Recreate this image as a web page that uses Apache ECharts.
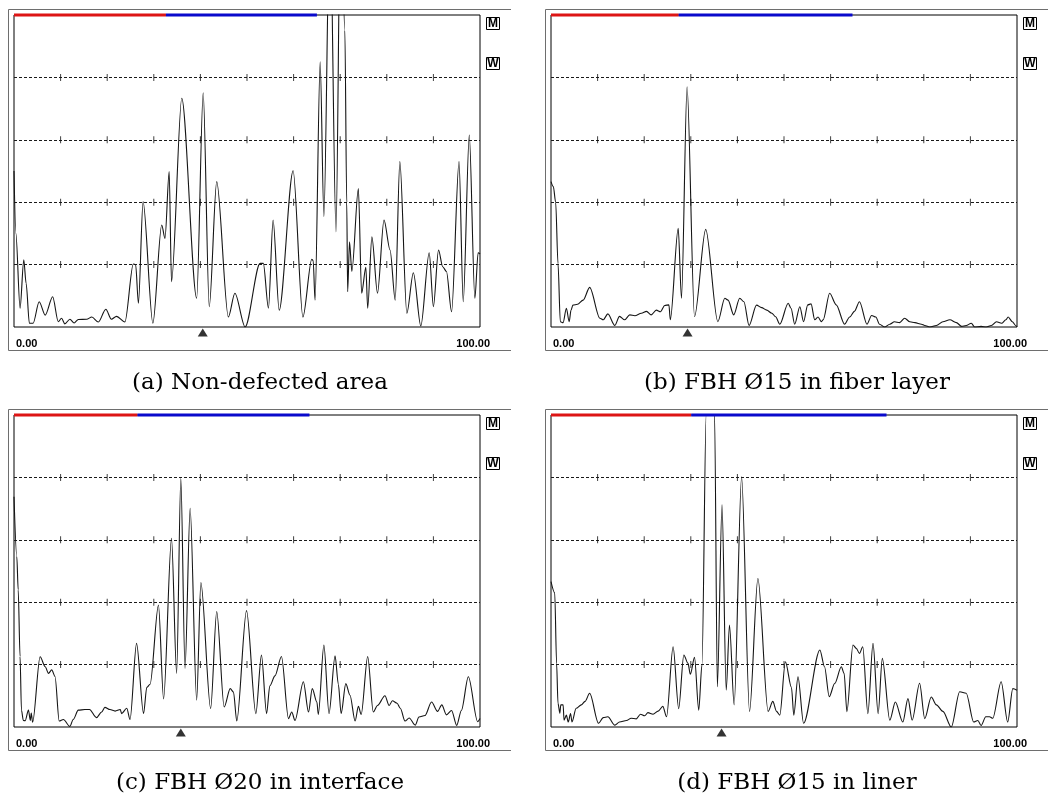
<!DOCTYPE html>
<html>
<head>
<meta charset="utf-8">
<script src="https://cdn.jsdelivr.net/npm/echarts@6/dist/echarts.min.js"></script>
<style>
html, body { margin: 0; padding: 0; background: #fff; }
#chart { width: 1048px; height: 804px; }
</style>
</head>
<body>
<div id="chart"></div>
<script>
// A-scan amplitude traces: [time-base %, amplitude %]
const scanA = [
  [0,50],[0.4,30],[1.3,6],[2.1,21.5],[2.6,14],[3.3,1.2],[4.1,1.2],[5.4,8.1],[6.7,3.8],[8.3,9.7],[9.5,1.7],
  [10.2,2.8],[10.9,1],[12.0,2.5],[12.9,1.3],[13.8,2.4],[15.6,2.5],[16.7,3.2],[18.1,1.6],[19.7,5.7],[20.9,2.5],
  [22.0,3.4],[23.8,1.6],[25.6,20.2],[26.1,20],[26.7,7.6],[27.7,40.2],[29.8,1.2],[31.7,32.7],[32.4,28.4],
  [33.3,49.8],[33.8,14.5],[36.0,73.3],[39.2,9.2],[40.6,75.1],[41.9,6.5],[43.5,46.6],[46.0,3.2],[47.4,10.8],
  [49.6,0],[52.8,20.4],[53.5,20.4],[54.6,6.0],[55.6,34.3],[56.9,5.4],[59.9,50.1],[62.0,3.2],[63.9,21.7],
  [64.2,21.3],[64.6,8.6],[65.7,85.0],[66.5,35.4],[67.8,135],[69.1,30.5],[70.1,140],[71.0,95],[71.4,40],
  [71.6,11.3],[72.0,27.3],[72.5,17.8],[73.9,44.4],[74.6,10.8],[75.5,19.1],[75.9,6.0],[76.8,28.9],[78.0,10.8],
  [79.4,34.3],[80.7,24.7],[81.8,8.6],[82.8,53.0],[84.3,4.4],[85.7,17.4],[87.3,0.3],[89.1,23.8],[90.0,6.5],
  [91.1,24.7],[92.0,19.3],[92.8,17.8],[93.9,4.9],[95.5,53.0],[96.4,8.1],[97.7,61.5],[98.9,9.2],[99.6,23.8],
  [100,23.4]
];
const scanB = [
  [0,46.6],[0.5,45],[1.0,40],[1.5,20.4],[2.0,1.7],[2.6,1.4],[3.3,6.0],[3.9,1.7],[4.3,5.4],[4.7,7.0],[5.7,7.3],
  [6.9,8.6],[8.3,12.7],[10.5,2.8],[11.2,2.3],[12.2,4.2],[13.7,0.5],[14.7,3.4],[15.8,2.3],[16.9,3.9],[18.0,3.6],
  [19.4,4.4],[20.5,5.0],[21.5,3.9],[22.6,5.4],[23.5,4.9],[24.4,6.9],[25.3,7.1],[25.6,2.3],[27.3,31.6],[28.0,9.2],
  [29.2,77.0],[30.8,3.3],[33.2,31.3],[35.8,1.7],[37.3,9.2],[38.0,8.6],[39.2,3.9],[40.5,9.2],[41.4,8.1],[42.5,0.5],
  [44.1,7.0],[45.2,6.2],[46.3,5.4],[47.4,4.4],[48.2,3.3],[49.1,0.9],[50.9,7.6],[51.5,6.0],[52.3,0.9],[53.4,6.5],
  [54.2,1.7],[55.1,7.1],[55.8,7.4],[56.6,2.3],[57.3,3.2],[58.0,1.7],[58.4,2.3],[59.8,10.8],[61.2,7.1],[63.0,0.9],
  [64.1,3.2],[65.1,5.0],[66.2,8.1],[67.8,0.9],[68.8,3.7],[69.7,3.2],[70.5,0.9],[71.6,0],[72.7,0.9],[73.7,1.7],
  [74.8,1.4],[75.9,2.8],[77.0,1.7],[78.1,1.4],[79.5,0.9],[80.2,0.5],[81.3,0],[82.7,0.5],[84.1,1.7],[85.6,2.3],
  [87.0,1.4],[88.1,0.2],[89.1,0.5],[90.2,1.2],[90.9,0],[92.3,0.2],[93.4,0],[94.5,0.5],[95.6,1.7],[96.7,1.2],
  [97.6,2.3],[98.1,3.2],[99.0,1.7],[99.7,0.5],[100,0]
];
const scanC = [
  [0,73.8],[0.6,54.6],[0.9,44.0],[1.3,22.6],[1.6,5.4],[2.0,2.1],[2.4,2.0],[3.1,5.4],[3.5,2.1],[3.7,4.5],[4.0,1.5],
  [5.6,22.5],[6.7,19.3],[7.4,17.2],[8.1,18.3],[8.8,16.2],[9.7,1.9],[10.6,2.4],[12.0,0.2],[12.7,2.4],[13.8,5.4],
  [15.2,5.6],[16.2,5.6],[17.7,3.0],[18.8,4.8],[19.5,6.3],[20.6,5.6],[21.7,5.1],[22.8,5.6],[23.1,4.3],[24.2,6.0],
  [24.9,2.4],[26.3,26.8],[27.8,4.3],[28.5,12.7],[29.2,13.7],[31.0,39.1],[32.1,9.0],[33.8,60.5],[34.9,17.2],
  [35.8,79.7],[36.7,18.8],[37.8,70.1],[39.2,8.6],[40.1,46.3],[42.2,5.9],[43.5,37.0],[45.1,6.4],[46.4,12.3],
  [47.1,11.2],[47.8,1.9],[49.9,37.3],[51.9,4.3],[53.1,23.1],[54.2,4.3],[54.9,13.2],[56.0,16.4],[57.4,22.6],
  [58.9,2.7],[59.6,4.8],[60.3,2.1],[62.1,14.5],[63.2,4.8],[64.0,12.3],[65.0,8.0],[65.3,4.0],[66.5,26.3],
  [67.6,4.3],[68.9,22.8],[69.6,13.7],[70.2,4.3],[71.2,13.9],[72.1,10.2],[73.2,1.9],[73.9,6.6],[74.5,4.0],
  [75.9,22.6],[77.1,4.8],[78.0,6.9],[79.6,10.0],[80.5,6.9],[81.2,8.4],[82.2,7.6],[82.9,6.0],[83.9,1.9],
  [84.8,2.9],[86.1,0.6],[86.9,3.2],[88.2,3.7],[89.6,8.0],[90.9,5.0],[91.8,7.1],[92.8,3.9],[93.9,5.3],
  [95.0,0.5],[96.0,5.3],[97.5,16.1],[99.5,1.7],[100,2.7]
];
const scanD = [
  [0,46.6],[0.8,43],[1.2,20.4],[1.5,7.6],[1.9,4.4],[2.1,7.1],[2.6,7.1],[2.8,2.2],[3.3,3.8],[3.7,1.6],[4.2,4.3],
  [4.5,1.6],[5.4,6.0],[6.5,7.1],[7.3,8.2],[8.3,10.8],[10.2,1.2],[11.2,3.0],[12.2,3.3],[13.7,0.6],[14.7,1.6],
  [16.2,2.1],[17.2,2.8],[18.3,2.6],[19.2,4.1],[20.1,3.6],[20.8,4.6],[21.9,4.1],[23.0,5.1],[24.0,6.6],[24.8,3.3],
  [26.2,25.7],[27.4,5.9],[28.5,23.1],[29.4,20.4],[29.9,16.9],[30.8,22.3],[31.7,5.4],[32.4,20],[33.3,100],
  [34.2,118],[35.1,100],[35.7,12.9],[36.7,71.2],[37.6,11.8],[38.3,32.7],[39.3,7.1],[40.9,80.2],[42.6,5.0],
  [44.4,47.6],[46.6,5.0],[47.6,8.2],[48.4,5.0],[49.1,3.8],[50.3,20.9],[51.6,12.7],[52.1,3.8],[53.0,16.1],
  [54.2,1.2],[57.7,24.7],[58.7,19.3],[59.7,9.7],[60.9,14.0],[62.3,19.3],[62.9,17.2],[63.5,4.9],[64.8,26.3],
  [65.5,25.2],[66.2,23.6],[66.9,25.7],[68.0,4.3],[69.1,26.8],[70.2,4.3],[71.1,22.0],[72.7,2.2],[73.9,8.0],
  [75.5,1.6],[76.6,9.1],[77.5,2.2],[79.1,14.0],[80.2,2.7],[81.6,9.6],[82.7,7.1],[84.1,5.0],[85.9,0],
  [87.7,11.3],[89.1,10.8],[90.7,1.6],[91.6,2.1],[92.3,0.5],[93.3,3.3],[94.1,3.3],[94.8,2.8],[96.6,14.5],
  [98.0,1.6],[99.1,12.3],[100,11.8]
];

const captions = [
  '(a) Non-defected area',
  '(b) FBH Ø15 in fiber layer',
  '(c) FBH Ø20 in interface',
  '(d) FBH Ø15 in liner'
];
// Gate bars along the top edge (end of the red and blue segments, % of range)
const gateRedEnd = [32.6, 27.4, 26.5, 30.1];
const gateBlueEnd = [65.0, 64.7, 63.4, 72.0];
// Position of the triangle marker under the time base (%)
const markerPos = [40.5, 29.3, 35.8, 36.6];
const gridLevels = [20, 40, 60, 80];
const tickPositions = [10, 20, 30, 40, 50, 60, 70, 80, 90];
const rangeLabels = ['0.00', '100.00'];
const flagLabels = ['M', 'W'];

const scans = [scanA, scanB, scanC, scanD];

// Screen layout of the four A-scan windows
const PW = 466, PH = 312;
const panels = [
  { left: 14, top: 15, frameRight: 511 },
  { left: 551, top: 15, frameRight: 1048 },
  { left: 14, top: 415, frameRight: 511 },
  { left: 551, top: 415, frameRight: 1048 }
];

const grids = [], xAxes = [], yAxes = [], series = [], graphics = [];

panels.forEach((p, i) => {
  grids.push({
    left: p.left, top: p.top, width: PW, height: PH,
    show: true, backgroundColor: '#fff', borderColor: '#000', borderWidth: 1
  });
  xAxes.push({
    gridIndex: i, type: 'value', min: 0, max: 100, interval: 10,
    axisLine: { show: false }, axisTick: { show: false }, axisLabel: { show: false },
    splitLine: { show: false }
  });
  yAxes.push({
    gridIndex: i, type: 'value', min: 0, max: 100, interval: 20,
    axisLine: { show: false }, axisTick: { show: false }, axisLabel: { show: false },
    splitLine: {
      show: true, showMinLine: false, showMaxLine: false,
      lineStyle: { color: '#1a1a1a', width: 1, type: [3, 2] }
    }
  });

  // short tick marks on every dashed level
  const ticks = [];
  gridLevels.forEach(lv => tickPositions.forEach(t => ticks.push([t, lv])));
  series.push({
    type: 'scatter', xAxisIndex: i, yAxisIndex: i, data: ticks,
    symbol: 'rect', symbolSize: [1, 7], itemStyle: { color: '#111' },
    silent: true, z: 2, animation: false
  });

  // the echo trace
  series.push({
    type: 'line', xAxisIndex: i, yAxisIndex: i, data: scans[i],
    symbol: 'none', smooth: 0.3, smoothMonotone: 'x', clip: true,
    lineStyle: { color: '#151515', width: 1.1 },
    silent: true, z: 3, animation: false
  });

  // red / blue gate bars
  series.push({
    type: 'line', xAxisIndex: i, yAxisIndex: i,
    data: [[0, 100], [gateRedEnd[i], 100]],
    symbol: 'none', clip: false, lineStyle: { color: '#dd1515', width: 3 },
    silent: true, z: 5, animation: false
  });
  series.push({
    type: 'line', xAxisIndex: i, yAxisIndex: i,
    data: [[gateRedEnd[i], 100], [gateBlueEnd[i], 100]],
    symbol: 'none', clip: false, lineStyle: { color: '#0a0acc', width: 3 },
    silent: true, z: 5, animation: false
  });

  // triangle marker below the time base
  series.push({
    type: 'scatter', xAxisIndex: i, yAxisIndex: i,
    data: [[markerPos[i], -1.8]],
    symbol: 'triangle', symbolSize: [10, 8], clip: false,
    itemStyle: { color: '#000' }, silent: true, z: 5, animation: false
  });

  // outer instrument frame (left, top, bottom)
  const fx = p.left - 6, fy = p.top - 6, fb = p.top + PH + 23;
  const frameStyle = { stroke: '#6e6e6e', lineWidth: 1 };
  graphics.push(
    { type: 'line', shape: { x1: fx + 0.5, y1: fy + 0.5, x2: p.frameRight, y2: fy + 0.5 }, style: frameStyle, silent: true },
    { type: 'line', shape: { x1: fx + 0.5, y1: fy + 0.5, x2: fx + 0.5, y2: fb + 0.5 }, style: frameStyle, silent: true },
    { type: 'line', shape: { x1: fx + 0.5, y1: fb + 0.5, x2: p.frameRight, y2: fb + 0.5 }, style: frameStyle, silent: true }
  );

  // M / W flags at the right of the screen
  flagLabels.forEach((f, k) => {
    const bx = p.left + PW + 6, by = p.top + 2 + k * 40;
    graphics.push({
      type: 'rect', shape: { x: bx + 0.5, y: by + 0.5, width: 13, height: 12 },
      style: { fill: '#fff', stroke: '#000', lineWidth: 1 }, silent: true
    });
    graphics.push({
      type: 'text', x: bx + 7, y: by + 7,
      style: {
        text: f, fill: '#000', font: 'bold 12px "Liberation Sans", Arial, sans-serif',
        align: 'center', verticalAlign: 'middle'
      }, silent: true
    });
  });

  // range end labels
  graphics.push({
    type: 'text', x: p.left + 2, y: p.top + PH + 17,
    style: { text: rangeLabels[0], fill: '#000', font: 'bold 11px "Liberation Sans", Arial, sans-serif',
      align: 'left', verticalAlign: 'middle' }, silent: true
  });
  graphics.push({
    type: 'text', x: p.left + PW + 10, y: p.top + PH + 17,
    style: { text: rangeLabels[1], fill: '#000', font: 'bold 11px "Liberation Sans", Arial, sans-serif',
      align: 'right', verticalAlign: 'middle' }, silent: true
  });

  // caption
  graphics.push({
    type: 'text', x: p.left + 246, y: p.top + 368,
    style: { text: captions[i], fill: '#000', font: '23px "DejaVu Serif", serif',
      align: 'center', verticalAlign: 'middle' }, silent: true
  });
});

const chart = echarts.init(document.getElementById('chart'), null, { renderer: 'canvas' });
chart.setOption({
  animation: false,
  backgroundColor: '#fff',
  grid: grids,
  xAxis: xAxes,
  yAxis: yAxes,
  series: series,
  graphic: graphics
});
</script>
</body>
</html>
